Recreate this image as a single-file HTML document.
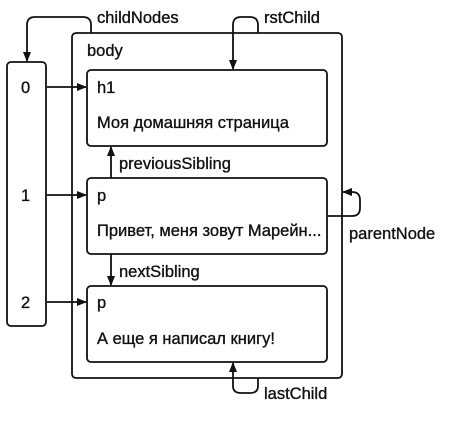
<!DOCTYPE html>
<html><head><meta charset="utf-8"><style>
html,body{margin:0;padding:0;background:#fff;}
svg text{font-family:"Liberation Sans","DejaVu Sans",sans-serif;font-size:16.5px;fill:#111;stroke:#111;stroke-width:0.35;}
</style></head><body>
<svg width="465" height="420" viewBox="0 0 465 420" xmlns="http://www.w3.org/2000/svg">
<defs><marker id="a" markerWidth="10" markerHeight="8" refX="9" refY="4" orient="auto" markerUnits="userSpaceOnUse"><path d="M0,0 L10,4 L0,8 Z" fill="#111"/></marker></defs>
<g fill="none" stroke="#111" stroke-width="1.8">
<rect x="72" y="33" width="270" height="345" rx="4"/>
<rect x="7" y="62" width="39" height="264" rx="4"/>
<rect x="87" y="70" width="240" height="76" rx="4"/>
<rect x="87" y="178" width="240" height="76" rx="4"/>
<rect x="87" y="286" width="240" height="76" rx="4"/>
<path d="M91,33 V25 Q91,17 83,17 H35 Q27,17 27,25 V61" marker-end="url(#a)"/>
<path d="M258,33 V25 Q258,17 250,17 H241 Q233,17 233,25 V69" marker-end="url(#a)"/>
<path d="M47,87 H86" marker-end="url(#a)"/>
<path d="M47,195 H86" marker-end="url(#a)"/>
<path d="M47,302 H86" marker-end="url(#a)"/>
<path d="M111,178 V147" marker-end="url(#a)"/>
<path d="M111,254 V285" marker-end="url(#a)"/>
<path d="M327,216 H352 Q360,216 360,208 V200 Q360,192 352,192 H343" marker-end="url(#a)"/>
<path d="M258,378 V386 Q258,393 250,393 H241 Q233,393 233,386 V363" marker-end="url(#a)"/>
</g>
<text x="97" y="23">childNodes</text>
<text x="264" y="23">rstChild</text>
<text x="87" y="56">body</text>
<text x="21" y="93">0</text>
<text x="21" y="201">1</text>
<text x="21" y="308">2</text>
<text x="97" y="93">h1</text>
<text x="97" y="128">Моя домашняя страница</text>
<text x="119" y="169">previousSibling</text>
<text x="97" y="201">p</text>
<text x="97" y="236">Привет, меня зовут Марейн...</text>
<text x="119" y="277">nextSibling</text>
<text x="97" y="308">p</text>
<text x="97" y="344">А еще я написал книгу!</text>
<text x="349" y="239">parentNode</text>
<text x="264" y="399">lastChild</text>
</svg>
</body></html>
